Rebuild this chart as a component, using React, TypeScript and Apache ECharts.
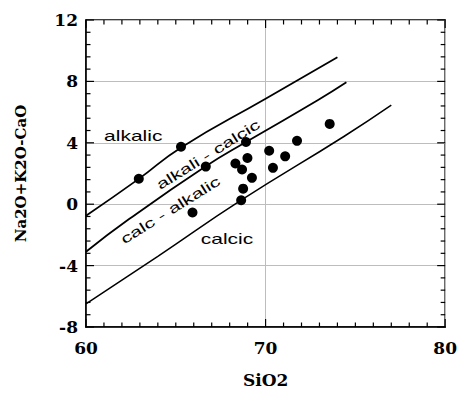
import React, { useEffect, useRef } from "react";
import * as echarts from "echarts";

// Axis ranges
const xRange = [60, 80];
const yRange = [-8, 12];
const xTickStep = 10;
const yTickStep = 4;

// Tick positions (major ticks are the labelled ones)
const xTicks = [60, 61, 62, 63, 64, 65, 66, 67, 68, 69, 70, 71, 72, 73, 74, 75, 76, 77, 78, 79, 80];
const xMajorTicks = [60, 70, 80];
const yTicks = [-8, -7.2, -6.4, -5.6, -4.8, -4, -3.2, -2.4, -1.6, -0.8, 0, 0.8, 1.6, 2.4, 3.2, 4, 4.8, 5.6, 6.4, 7.2, 8, 8.8, 9.6, 10.4, 11.2, 12];
const yMajorTicks = [-8, -4, 0, 4, 8, 12];

// Sample points (SiO2, Na2O+K2O-CaO)
const sampleSiO2 = [62.94, 65.29, 66.67, 65.93, 68.91, 68.32, 68.69, 68.99, 69.24, 68.75, 68.64, 70.2, 70.41, 71.09, 71.75, 73.57];
const sampleMALI = [1.66, 3.74, 2.45, -0.54, 4.05, 2.65, 2.26, 3.01, 1.72, 1.01, 0.26, 3.48, 2.37, 3.12, 4.13, 5.23];

// Boundary curves
const alkalicBoundaryX = [60, 62.94, 65.3, 70, 74];
const alkalicBoundaryY = [-0.75, 1.65, 3.7, 6.87, 9.57];
const calcAlkalicBoundaryX = [60, 62.4, 66.67, 68.91, 72.9, 74.5];
const calcAlkalicBoundaryY = [-3.1, -0.97, 2.47, 4.05, 6.77, 7.94];
const calcicBoundaryX = [60, 64, 68.64, 74.36, 77];
const calcicBoundaryY = [-6.5, -3.4, 0.26, 4.41, 6.45];

// Field labels
const fieldNames = ["alkalic", "alkali - calcic", "calc - alkalic", "calcic"];
const fieldX = [62.63, 66.81, 64.7, 67.85];
const fieldY = [4.45, 3.23, -0.39, -2.26];
const fieldAngle = [0, 32, 32, 0];

const serif = '"DejaVu Serif", "Liberation Serif", serif';

function zip(xs: number[], ys: number[]) {
  return xs.map((x, i) => [x, ys[i]]);
}

// tick items: [xValue, yValue, kind (0 = x tick, 1 = y tick), major]
const tickItems = [
  ...xTicks.map((v) => [v, yRange[0], 0, xMajorTicks.includes(v) ? 1 : 0]),
  ...yTicks.map((v) => [xRange[0], v, 1, yMajorTicks.includes(v) ? 1 : 0]),
];

export default function App() {
  const ref = useRef<HTMLDivElement>(null);
  useEffect(() => {
    document.body.style.margin = "0";
    const chart = echarts.init(ref.current!, null, { renderer: "svg" });
    chart.setOption({
      animation: false,
      grid: { left: 86, right: 12, top: 20, bottom: 64, show: true, borderColor: "#000", borderWidth: 1.5, backgroundColor: "transparent" },
      xAxis: {
        type: "value",
        min: xRange[0],
        max: xRange[1],
        interval: xTickStep,
        axisLine: { show: true, onZero: false, lineStyle: { color: "#000", width: 1.5 } },
        axisTick: { show: false },
        minorTick: { show: false },
        name: "SiO2",
        nameLocation: "middle",
        nameGap: 44,
        nameTextStyle: { fontFamily: serif, fontWeight: "bold", fontSize: 17, color: "#000" },
        axisLabel: { fontFamily: serif, fontWeight: "bold", fontSize: 17, color: "#000", margin: 12 },
        splitLine: { show: true, lineStyle: { color: "#bdbdbd", width: 1 } },
      },
      yAxis: {
        type: "value",
        min: yRange[0],
        max: yRange[1],
        interval: yTickStep,
        axisLine: { show: true, onZero: false, lineStyle: { color: "#000", width: 1.5 } },
        axisTick: { show: false },
        minorTick: { show: false },
        name: "Na2O+K2O-CaO",
        nameLocation: "middle",
        nameGap: 58,
        nameTextStyle: { fontFamily: serif, fontWeight: "bold", fontSize: 15, color: "#000" },
        axisLabel: { fontFamily: serif, fontWeight: "bold", fontSize: 17, color: "#000", margin: 8 },
        splitLine: { show: true, lineStyle: { color: "#bdbdbd", width: 1 } },
      },
      series: [
        { type: "line", data: zip(alkalicBoundaryX, alkalicBoundaryY), smooth: 0.5, symbol: "none", lineStyle: { color: "#000", width: 1.8 } },
        { type: "line", data: zip(calcAlkalicBoundaryX, calcAlkalicBoundaryY), smooth: 0.5, symbol: "none", lineStyle: { color: "#000", width: 1.8 } },
        { type: "line", data: zip(calcicBoundaryX, calcicBoundaryY), smooth: 0.5, symbol: "none", lineStyle: { color: "#000", width: 1.5 } },
        {
          type: "scatter",
          data: zip(sampleSiO2, sampleMALI),
          symbol: "circle",
          symbolSize: 10,
          itemStyle: { color: "#000", opacity: 1 },
        },
        {
          type: "custom",
          silent: true,
          clip: false,
          data: tickItems,
          renderItem: (params: any, api: any) => {
            const cs = params.coordSys;
            const kind = api.value(2);
            const len = api.value(3) ? 8 : 4.5;
            const style = { stroke: "#000", lineWidth: 1.2 };
            if (kind === 0) {
              const px = api.coord([api.value(0), yRange[0]])[0];
              return {
                type: "group",
                children: [
                  { type: "line", shape: { x1: px, y1: cs.y + cs.height, x2: px, y2: cs.y + cs.height - len }, style },
                  { type: "line", shape: { x1: px, y1: cs.y, x2: px, y2: cs.y + len }, style },
                ],
              };
            }
            const py = api.coord([xRange[0], api.value(1)])[1];
            return {
              type: "group",
              children: [
                { type: "line", shape: { x1: cs.x, y1: py, x2: cs.x + len, y2: py }, style },
                { type: "line", shape: { x1: cs.x + cs.width, y1: py, x2: cs.x + cs.width - len, y2: py }, style },
              ],
            };
          },
        },
        {
          type: "custom",
          data: fieldNames.map((_, i) => [fieldX[i], fieldY[i], i]),
          renderItem: (_params: any, api: any) => {
            const i = api.value(2);
            const p = api.coord([api.value(0), api.value(1)]);
            return {
              type: "text",
              x: p[0],
              y: p[1],
              rotation: (fieldAngle[i] * Math.PI) / 180,
              scaleX: 1.5,
              style: {
                text: fieldNames[i],
                fill: "#000",
                fontSize: 14,
                fontFamily: '"Liberation Sans", Arial, sans-serif',
                align: "center",
                verticalAlign: "middle",
              },
            };
          },
        },
      ],
    });
    return () => chart.dispose();
  }, []);
  return <div ref={ref} style={{ width: 460, height: 393 }} />;
}
